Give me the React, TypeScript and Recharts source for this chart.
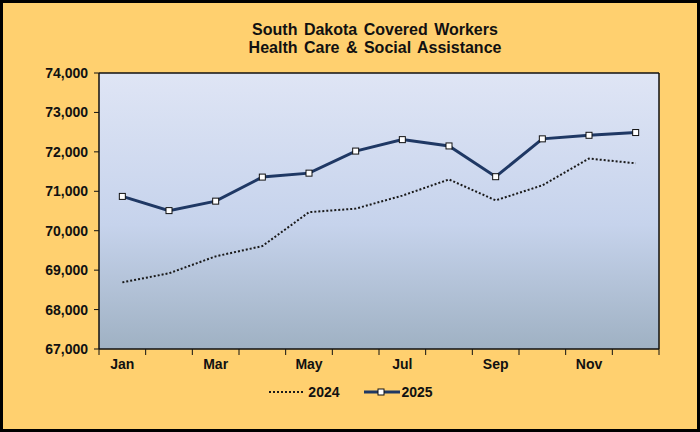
import React from 'react';
import {
  LineChart,
  Line,
  XAxis,
  YAxis,
  CartesianGrid,
  ReferenceLine,
  Legend
} from 'recharts';

const months = ['Jan', 'Feb', 'Mar', 'Apr', 'May', 'Jun', 'Jul', 'Aug', 'Sep', 'Oct', 'Nov', 'Dec'];
const workers2024 = [68690, 68920, 69350, 69610, 70470, 70560, 70890, 71300, 70770, 71150, 71830, 71710];
const workers2025 = [70870, 70510, 70750, 71360, 71460, 72020, 72310, 72150, 71370, 72330, 72420, 72490];
const yTicks = [67000, 68000, 69000, 70000, 71000, 72000, 73000, 74000];

// x sits in the middle of each month band, like an Excel category axis
const data = months.map((m, i) => ({
  month: m,
  x: i + 0.5,
  y2024: workers2024[i],
  y2025: workers2025[i]
}));

const bandTicks = months.map((_, i) => i).concat([months.length]);

const font = 'Arial, "Liberation Sans", sans-serif';
const axisColor = '#111';

const SquareDot = (props: any) => {
  const { cx, cy } = props;
  if (cx == null || cy == null) return null;
  return <rect x={cx - 3} y={cy - 3} width={6} height={6} fill="#fff" stroke="#111" strokeWidth={1} />;
};

// tick marks sit between months; label every other month in the middle of its band
const MonthTick = (props: any) => {
  const { x, y, payload, width } = props;
  const v = payload.value;
  if (v >= months.length || v % 2 !== 0) return null;
  const half = (width || 560) / months.length / 2;
  return (
    <text
      x={x + half}
      y={y}
      dy="0.71em"
      textAnchor="middle"
      fontFamily={font}
      fontWeight="bold"
      fontSize={14}
      fill="#111"
    >
      {months[v]}
    </text>
  );
};

const LegendContent = () => (
  <div style={{ display: 'flex', justifyContent: 'center', alignItems: 'center', fontFamily: font, fontWeight: 'bold', fontSize: 14, color: '#111', paddingLeft: 40, paddingTop: 5 }}>
    <svg width={34} height={10} style={{ marginRight: 5 }}>
      <line x1={0} y1={5} x2={34} y2={5} stroke="#1a1a1a" strokeWidth={2} strokeDasharray="2 2" />
    </svg>
    <span style={{ marginRight: 24 }}>2024</span>
    <svg width={36} height={10} style={{ marginRight: 2 }}>
      <line x1={0} y1={5} x2={36} y2={5} stroke="#1f3864" strokeWidth={3} />
      <rect x={14} y={2} width={6} height={6} fill="#fff" stroke="#111" strokeWidth={1} />
    </svg>
    <span>2025</span>
  </div>
);

export default function App() {
  return (
    <div
      style={{
        position: 'absolute',
        left: 0,
        top: 0,
        width: 700,
        height: 432,
        boxSizing: 'border-box',
        border: '3px solid #000',
        background: '#FFD06F',
        fontFamily: font
      }}
    >
      <div
        style={{
          position: 'absolute',
          left: 0,
          width: 694,
          top: 18,
          textAlign: 'center',
          fontWeight: 'bold',
          fontSize: 16,
          lineHeight: '18px',
          wordSpacing: 2,
          color: '#111',
          paddingLeft: 50,
          boxSizing: 'border-box'
        }}
      >
        South Dakota Covered Workers
        <br />
        Health Care &amp; Social Assistance
      </div>
      <LineChart
        width={694}
        height={426}
        data={data}
        margin={{ top: 70, right: 38, left: 0, bottom: 10 }}
      >
        <defs>
          <linearGradient id="plotBg" x1="0" y1="0" x2="0" y2="1">
            <stop offset="0%" stopColor="#DFE5F5" />
            <stop offset="55%" stopColor="#C6D3EC" />
            <stop offset="100%" stopColor="#9FB1C3" />
          </linearGradient>
        </defs>
        <CartesianGrid
          horizontal={false}
          vertical={false}
          fill="url(#plotBg)"
          fillOpacity={1}
          stroke="none"
        />
        <XAxis
          type="number"
          dataKey="x"
          domain={[0, months.length]}
          ticks={bandTicks}
          interval={0}
          tick={<MonthTick />}
          tickSize={6}
          tickMargin={4}
          height={30}
          axisLine={{ stroke: axisColor, strokeWidth: 1.5 }}
          tickLine={{ stroke: axisColor }}
        />
        <YAxis
          domain={[67000, 74000]}
          ticks={yTicks}
          width={96}
          tickSize={5}
          tickMargin={6}
          tickFormatter={(v: number) => v.toLocaleString('en-US')}
          axisLine={{ stroke: axisColor, strokeWidth: 1.5 }}
          tickLine={{ stroke: axisColor }}
          tick={{ fontFamily: font, fontWeight: 'bold', fontSize: 14, fill: '#111' }}
        />
        <ReferenceLine y={74000} stroke={axisColor} strokeWidth={1.5} />
        <ReferenceLine x={months.length} stroke={axisColor} strokeWidth={1.5} />
        <Legend verticalAlign="bottom" height={40} content={<LegendContent />} />
        <Line
          type="linear"
          dataKey="y2024"
          name="2024"
          stroke="#1a1a1a"
          strokeWidth={2}
          strokeDasharray="2 2"
          dot={false}
          activeDot={false}
          isAnimationActive={false}
        />
        <Line
          type="linear"
          dataKey="y2025"
          name="2025"
          stroke="#1f3864"
          strokeWidth={3}
          dot={<SquareDot />}
          activeDot={false}
          isAnimationActive={false}
        />
      </LineChart>
    </div>
  );
}
